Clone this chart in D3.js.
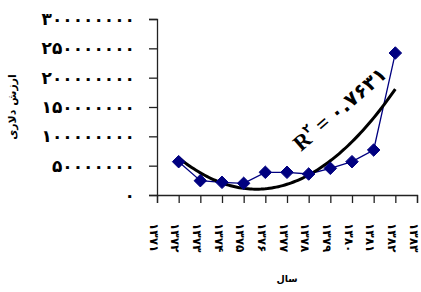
<!DOCTYPE html>
<html>
<head>
<meta charset="utf-8">
<script src="https://cdn.jsdelivr.net/npm/d3@7"></script>
<style>
  html, body { margin: 0; padding: 0; background: #fff; }
  svg { display: block; }
</style>
</head>
<body>
<div id="chart"></div>
<script>
// ---- data ----
const categories = ["1371","1372","1373","1374","1375","1376","1377","1378","1379","1380","1381","1382","1383"];
const seriesYears = ["1372","1373","1374","1375","1376","1377","1378","1379","1380","1381","1382"];
const seriesValues = [56800000, 24400000, 21600000, 19900000, 38700000, 38700000, 35800000, 45500000, 56800000, 76700000, 242000000];
const yTicks = [0, 50000000, 100000000, 150000000, 200000000, 250000000, 300000000];
const yTitle = "ارزش دلاری";
const xTitle = "سال";
const r2Text = "۰.۷۶۳۱";

const W = 421, H = 292;
const plot = { left: 157, right: 417, top: 19, bottom: 195 };
const fa = s => String(s).replace(/[0-9]/g, d => "۰۱۲۳۴۵۶۷۸۹"[+d]);

const svg = d3.select("#chart").append("svg").attr("width", W).attr("height", H);

const x = d3.scalePoint().domain(categories).range([plot.left, plot.right]);
const xi = d3.scaleLinear().domain([0, categories.length - 1]).range([plot.left, plot.right]);
const y = d3.scaleLinear().domain([0, 300000000]).range([plot.bottom, plot.top]);

// axes
const yAxis = d3.axisLeft(y).tickValues(yTicks).tickSize(8).tickPadding(14).tickFormat("");
const gy = svg.append("g").attr("transform", `translate(${plot.left},0)`).call(yAxis);
gy.select(".domain").attr("stroke", "#222").attr("stroke-width", 1.3);
gy.selectAll(".tick line").attr("stroke", "#222").attr("stroke-width", 1.3);

// y tick labels (right-aligned near x=135)
svg.append("g").selectAll("text").data(yTicks).join("text")
  .attr("x", 135).attr("y", d => y(d)).attr("dy", "0.35em")
  .attr("text-anchor", "end").attr("direction", "ltr")
  .attr("font-family", "DejaVu Sans").attr("font-weight", "bold").attr("font-size", 17)
  .attr("letter-spacing", -0.6)
  .text(d => fa(d));

const xAxis = d3.axisBottom(x).tickSize(8).tickFormat("");
const gx = svg.append("g").attr("transform", `translate(0,${plot.bottom})`).call(xAxis);
gx.select(".domain").attr("stroke", "#222").attr("stroke-width", 1.3);
gx.selectAll(".tick line").attr("stroke", "#222").attr("stroke-width", 1.3);

// x tick labels rotated
svg.append("g").selectAll("text").data(categories).join("text")
  .attr("transform", d => `translate(${x(d) - 3},${plot.bottom + 28}) rotate(90)`)
  .attr("text-anchor", "start").attr("direction", "ltr").attr("dy", "0.35em")
  .attr("font-family", "DejaVu Sans").attr("font-weight", "bold").attr("font-size", 12)
  .text(d => fa(d));

// axis titles
svg.append("text").attr("transform", `translate(12,107) rotate(-90)`)
  .attr("text-anchor", "middle").attr("dy", "0.35em")
  .attr("font-family", "DejaVu Sans").attr("font-weight", "bold").attr("font-size", 11)
  .text(yTitle);
svg.append("text").attr("x", (plot.left + plot.right) / 2).attr("y", 279)
  .attr("text-anchor", "middle").attr("dy", "0.35em")
  .attr("font-family", "DejaVu Sans").attr("font-weight", "bold").attr("font-size", 9.5)
  .text(xTitle);

// series line + markers
const pts = seriesYears.map((c, i) => ({ c, v: seriesValues[i], idx: categories.indexOf(c) }));
svg.append("path").datum(pts)
  .attr("fill", "none").attr("stroke", "#000080").attr("stroke-width", 1.3)
  .attr("d", d3.line().x(d => x(d.c)).y(d => y(d.v)));

// polynomial (order 2) trendline fitted to the series
(function () {
  const n = pts.length;
  let S = [0,0,0,0,0], T = [0,0,0];
  pts.forEach(p => {
    const t = p.idx;
    for (let k = 0; k < 5; k++) S[k] += Math.pow(t, k);
    for (let k = 0; k < 3; k++) T[k] += Math.pow(t, k) * p.v;
  });
  const A = [[S[0],S[1],S[2],T[0]],[S[1],S[2],S[3],T[1]],[S[2],S[3],S[4],T[2]]];
  for (let i = 0; i < 3; i++) {
    for (let j = i + 1; j < 3; j++) {
      const f = A[j][i] / A[i][i];
      for (let k = i; k < 4; k++) A[j][k] -= f * A[i][k];
    }
  }
  const c = [0,0,0];
  for (let i = 2; i >= 0; i--) {
    let s = A[i][3];
    for (let k = i + 1; k < 3; k++) s -= A[i][k] * c[k];
    c[i] = s / A[i][i];
  }
  const t0 = pts[0].idx, t1 = pts[n - 1].idx;
  const samples = d3.range(0, 101).map(k => t0 + (t1 - t0) * k / 100);
  svg.append("path").datum(samples)
    .attr("fill", "none").attr("stroke", "#000").attr("stroke-width", 3)
    .attr("d", d3.line().x(t => xi(t)).y(t => y(c[0] + c[1] * t + c[2] * t * t)));
})();

svg.append("g").selectAll("path").data(pts).join("path")
  .attr("transform", d => `translate(${x(d.c)},${y(d.v)})`)
  .attr("d", d3.symbol().type(d3.symbolDiamond2).size(100))
  .attr("fill", "#000080").attr("stroke", "#000080");

// R² label
const r2 = svg.append("text").attr("transform", "translate(301,152) rotate(-41)")
  .attr("font-family", "Liberation Serif, DejaVu Sans").attr("font-weight", "bold").attr("font-size", 22);
r2.append("tspan").text("R");
r2.append("tspan").attr("font-size", 12).attr("dy", -10).attr("font-family", "DejaVu Sans").text("۲");
r2.append("tspan").attr("dy", 10).text(" = ");
r2.append("tspan").attr("font-family", "DejaVu Sans").attr("font-size", 20).text(r2Text);
</script>
</body>
</html>
